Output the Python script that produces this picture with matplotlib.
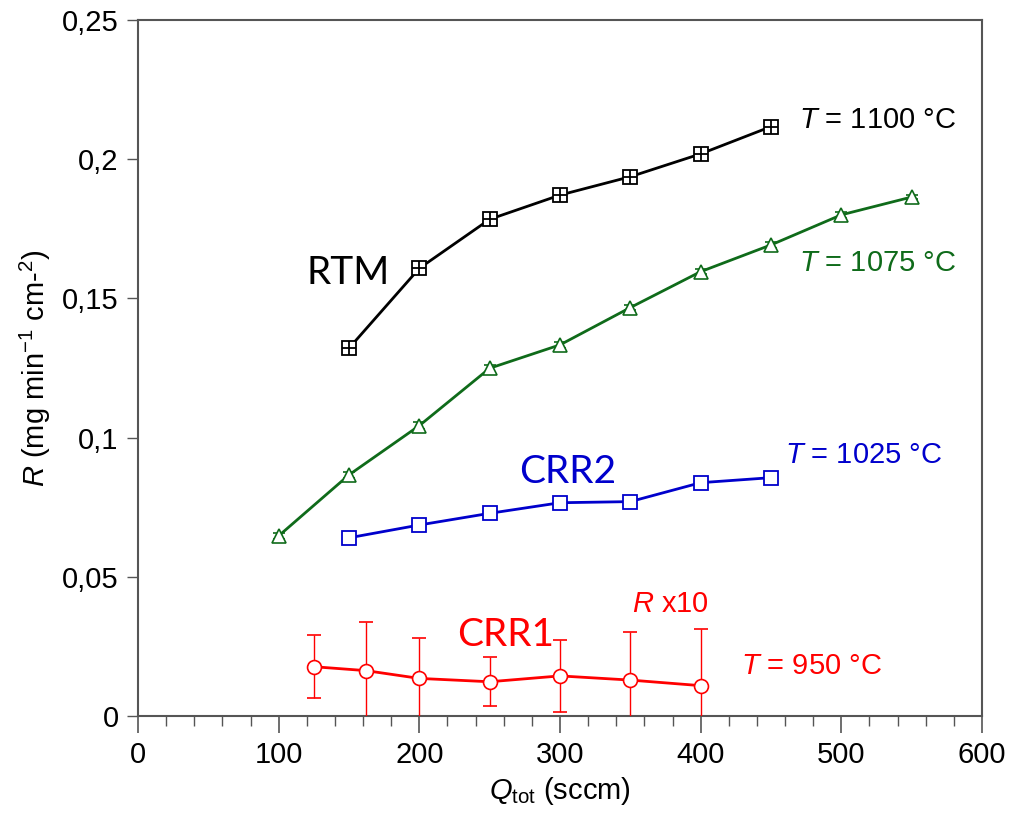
import matplotlib
matplotlib.use('Agg')
import matplotlib.pyplot as plt
from matplotlib.ticker import MultipleLocator, FixedLocator, FixedFormatter

plt.rcParams['font.family'] = ['Liberation Sans', 'DejaVu Sans']
plt.rcParams['mathtext.fontset'] = 'custom'
plt.rcParams['mathtext.rm'] = 'Liberation Sans'
plt.rcParams['mathtext.it'] = 'Liberation Sans:italic'

# data
q_rtm = [150, 200, 250, 300, 350, 400, 450]
r_rtm = [0.1321, 0.1608, 0.1784, 0.1871, 0.1937, 0.2019, 0.2117]
e_rtm = [0.0015, 0.0008, 0.0008, 0.0015, 0.0008, 0.0008, 0.0008]

q_1075 = [100, 150, 200, 250, 300, 350, 400, 450, 500, 550]
r_1075 = [0.0647, 0.0866, 0.1043, 0.1249, 0.1333, 0.1467, 0.1596, 0.1692, 0.1800, 0.1864]
e_1075 = [0.0010, 0.0012, 0.0012, 0.0012, 0.0010, 0.0010, 0.0010, 0.0012, 0.0010, 0.0008]

q_crr2 = [150, 200, 250, 300, 350, 400, 450]
r_crr2 = [0.0640, 0.0686, 0.0728, 0.0766, 0.0770, 0.0838, 0.0856]

q_crr1 = [125, 162, 200, 250, 300, 350, 400]
r_crr1 = [0.0177, 0.0163, 0.0135, 0.0123, 0.0144, 0.0129, 0.0109]
e_crr1 = [0.0114, 0.0176, 0.0144, 0.0088, 0.0130, 0.0171, 0.0203]

y_ticks = [0, 0.05, 0.1, 0.15, 0.2, 0.25]
y_tick_labels = ['0', '0,05', '0,1', '0,15', '0,2', '0,25']

green = '#0f6b1a'
blue = '#0000cc'
red = '#ff0000'

fig = plt.figure(figsize=(10.11, 8.18), dpi=100)
ax = fig.add_axes([0.1365, 0.1247, 0.8348, 0.8509])

# RTM, 1100 C
ax.errorbar(q_rtm, r_rtm, yerr=e_rtm, color='black', lw=2, ecolor='black',
            elinewidth=1, capsize=4, marker='s', ms=9.5, mfc='white', mec='black', mew=1.3, zorder=3)
ax.plot(q_rtm, r_rtm, ls='none', marker='+', ms=9.5, mec='black', mew=1.3, zorder=4)

# 1075 C
ax.errorbar(q_1075, r_1075, yerr=e_1075, color=green, lw=2, ecolor=green,
            elinewidth=1, capsize=4, marker='^', ms=9.5, mfc='white', mec=green, mew=1.2, zorder=3)

# CRR2, 1025 C
ax.plot(q_crr2, r_crr2, color=blue, lw=2, marker='s', ms=9.5, mfc='white', mec=blue, mew=1.3, zorder=3)

# CRR1, 950 C (x10)
ax.errorbar(q_crr1, r_crr1, yerr=e_crr1, color=red, lw=2, ecolor=red,
            elinewidth=1, capsize=5, marker='o', ms=10, mfc='white', mec=red, mew=1.2, zorder=3)

fs = 21
ax.text(470, 0.214, '$\\mathit{T}$ = 1100 °C', fontsize=fs, color='black', va='center')
ax.text(470, 0.1627, '$\\mathit{T}$ = 1075 °C', fontsize=fs, color=green, va='center')
ax.text(460, 0.0938, '$\\mathit{T}$ = 1025 °C', fontsize=fs, color=blue, va='center')
ax.text(429, 0.018, '$\\mathit{T}$ = 950 °C', fontsize=fs, color=red, va='center')
ax.text(351, 0.0402, '$\\mathit{R}$ x10', fontsize=fs, color=red, va='center')

lab = dict(fontsize=28, family=['Lato', 'DejaVu Sans'], va='center')
ax.text(120, 0.159, 'RTM', color='black', **lab)
ax.text(271, 0.0877, 'CRR2', color=blue, **lab)
ax.text(227, 0.0291, 'CRR1', color=red, **lab)

ax.set_xlim(0, 600)
ax.set_ylim(0, 0.25)
ax.xaxis.set_major_locator(MultipleLocator(100))
ax.xaxis.set_minor_locator(MultipleLocator(20))
ax.yaxis.set_major_locator(FixedLocator(y_ticks))
ax.yaxis.set_major_formatter(FixedFormatter(y_tick_labels))

ax.tick_params(axis='both', which='major', labelsize=21, color='#555555')
ax.tick_params(axis='x', which='major', length=12, width=1.2, pad=6)
ax.tick_params(axis='x', which='minor', length=7, width=1.0, color='#555555')
ax.tick_params(axis='y', which='major', length=8, width=1.0, pad=6)
for s in ax.spines.values():
    s.set_color('#555555')
    s.set_linewidth(1.5)

ax.set_xlabel('$\\mathit{Q}_{\\mathrm{tot}}$ (sccm)', fontsize=21, labelpad=4)
ax.set_ylabel('$\\mathit{R}$ (mg min$^{-1}$ cm-$^{2}$)', fontsize=21, labelpad=6)

fig.savefig('out.png', dpi=100)
